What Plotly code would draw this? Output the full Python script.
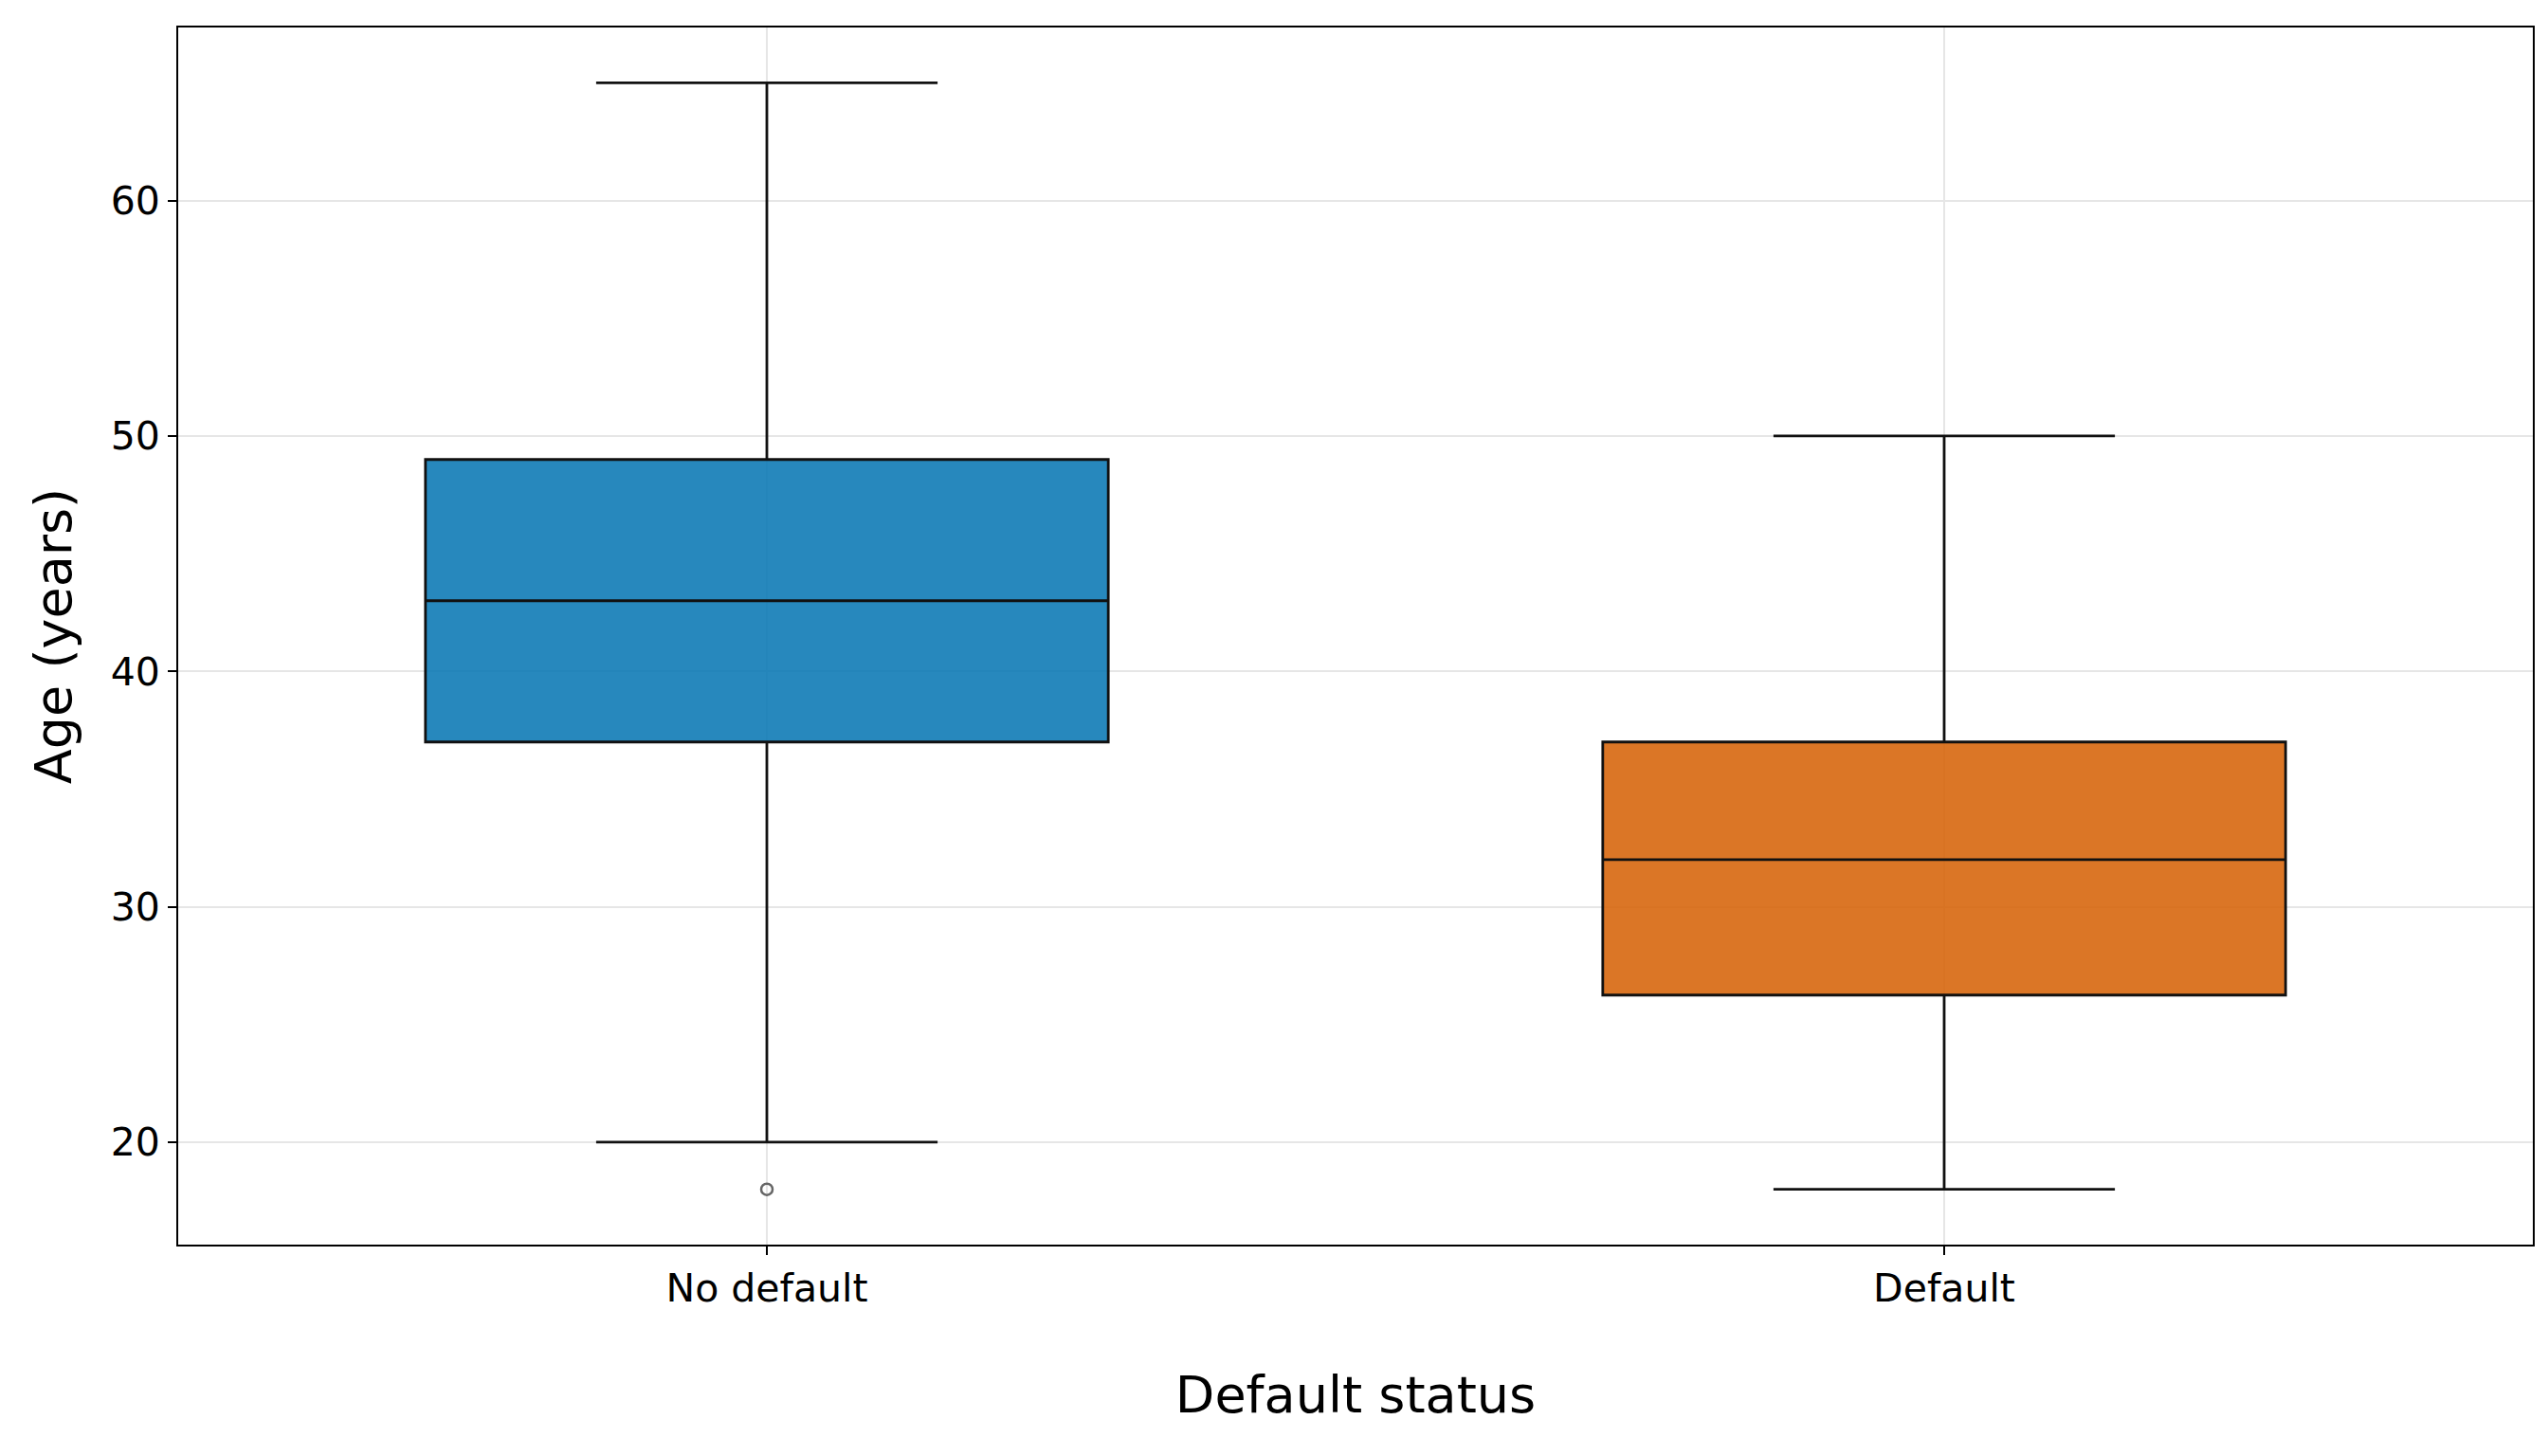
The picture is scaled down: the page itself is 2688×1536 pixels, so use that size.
import plotly.graph_objects as go

# summary statistics (age in years)
groups = ["No default", "Default"]
q1 = [37, 26.25]
medians = [43, 32]
q3 = [49, 37]
lower_fence = [20, 18]
upper_fence = [65, 50]
fill_colors = ["rgba(1,115,178,0.85)", "rgba(213,94,0,0.85)"]

outlier_group = ["No default"]
outlier_age = [18]

fig = go.Figure()

for i, g in enumerate(groups):
    fig.add_trace(go.Box(
        x=[g],
        q1=[q1[i]],
        median=[medians[i]],
        q3=[q3[i]],
        lowerfence=[lower_fence[i]],
        upperfence=[upper_fence[i]],
        width=0.58,
        whiskerwidth=0.5,
        fillcolor=fill_colors[i],
        line=dict(color="#111111", width=2.8),
        boxpoints=False,
        showlegend=False,
        hoverinfo="skip",
    ))

# the single flier below the lower whisker
fig.add_trace(go.Scatter(
    x=outlier_group,
    y=outlier_age,
    mode="markers",
    marker=dict(symbol="circle-open", size=12, color="#666666", line=dict(width=2.5)),
    showlegend=False,
))

font = "DejaVu Sans"

fig.update_layout(
    width=2688,
    height=1536,
    margin=dict(l=188, r=16, t=29, b=223),
    paper_bgcolor="white",
    plot_bgcolor="white",
    font=dict(family=font, color="black", size=41),
)

fig.update_xaxes(
    range=[-0.5, 1.5],
    showline=True, mirror=True, linecolor="black", linewidth=2,
    showgrid=True, gridcolor="#e6e6e6", gridwidth=2,
    ticks="outside", ticklen=9, tickwidth=2, tickcolor="black",
    tickfont=dict(size=41),
    title=dict(text="Default status", font=dict(size=54), standoff=70),
)
fig.update_yaxes(
    range=[15.65, 67.35],
    tickvals=[20, 30, 40, 50, 60],
    showline=True, mirror=True, linecolor="black", linewidth=2,
    showgrid=True, gridcolor="#e6e6e6", gridwidth=2,
    zeroline=False,
    ticks="outside", ticklen=9, tickwidth=2, tickcolor="black",
    tickfont=dict(size=41),
    title=dict(text="Age (years)", font=dict(size=54), standoff=24),
)

# drop the browser's default body margin so the figure sits at the page corner
fig.write_html(
    "out.html",
    config={"displayModeBar": False},
    post_script="document.body.style.margin='0';",
)
